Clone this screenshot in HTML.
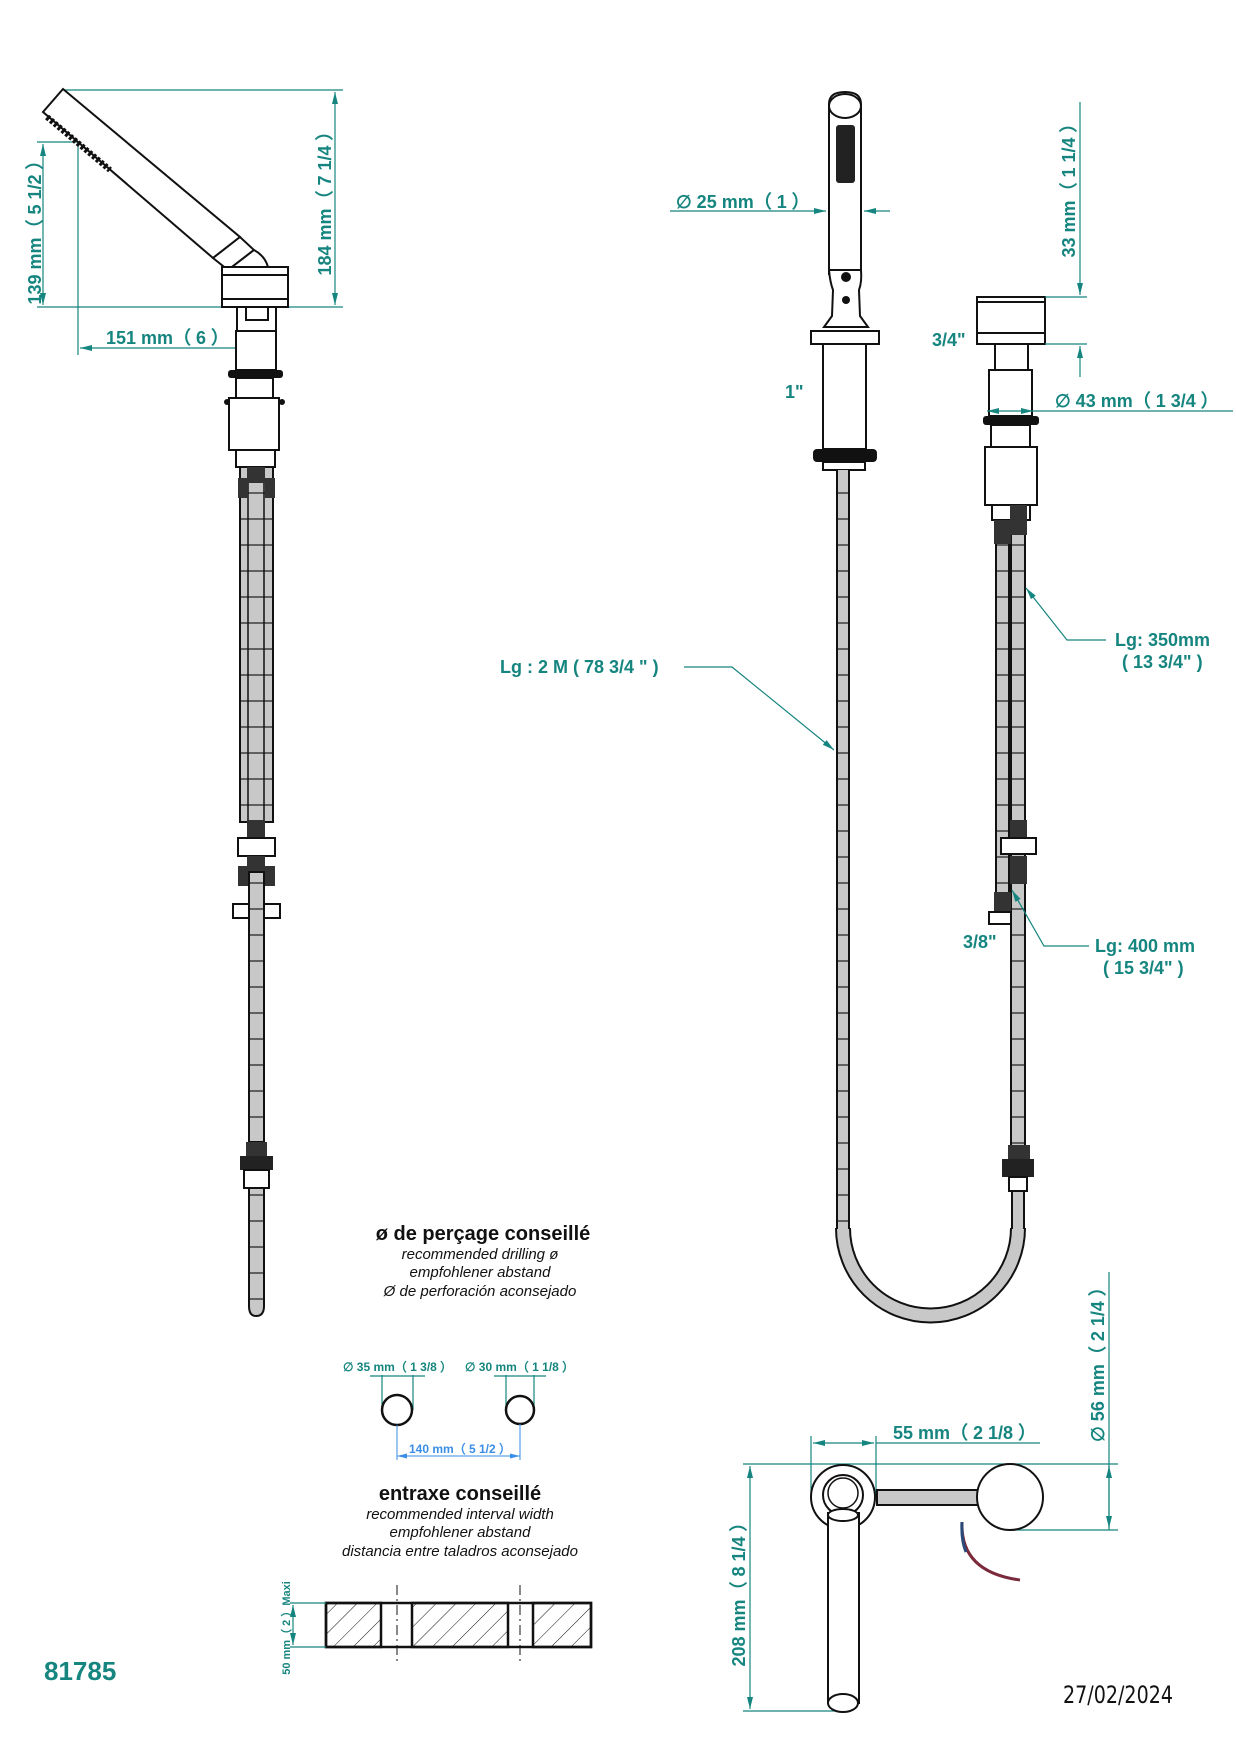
<!DOCTYPE html>
<html><head><meta charset="utf-8"><style>
html,body{margin:0;padding:0;background:#fff;}
svg{display:block;}
.d{fill:#16857f;font-family:"Liberation Sans",sans-serif;font-weight:bold;font-size:18px;}
.k{stroke:#111;stroke-width:2;fill:#fff;}
.g{stroke:#111;stroke-width:2;fill:#c8c8c8;}
.t{stroke:#16857f;stroke-width:1.2;fill:none;}
.it{font-family:"Liberation Sans",sans-serif;font-style:italic;font-size:15px;fill:#111;}
.bt{font-family:"Liberation Sans",sans-serif;font-weight:bold;font-size:20px;fill:#111;}
</style></head><body>
<svg width="1236" height="1752" viewBox="0 0 1236 1752" xmlns="http://www.w3.org/2000/svg">
<defs>
<pattern id="hs" width="20" height="26" patternUnits="userSpaceOnUse"><rect width="20" height="26" fill="#c8c8c8"/><line x1="0" y1="25" x2="20" y2="25" stroke="#222" stroke-width="1.2"/></pattern>
<pattern id="hatch" width="14" height="14" patternUnits="userSpaceOnUse" patternTransform="rotate(45)"><line x1="0" y1="0" x2="0" y2="14" stroke="#111" stroke-width="1"/></pattern>
<marker id="a" markerWidth="12" markerHeight="8" refX="12" refY="4" orient="auto-start-reverse" markerUnits="userSpaceOnUse"><path d="M0,1 L12,4 L0,7 z" fill="#16857f"/></marker>
<marker id="ab" markerWidth="10" markerHeight="6" refX="10" refY="3" orient="auto-start-reverse" markerUnits="userSpaceOnUse"><path d="M0,0.5 L10,3 L0,5.5 z" fill="#3a8ee6"/></marker>
</defs>

<!-- ===== LEFT VIEW ===== -->
<line class="t" x1="63" y1="90" x2="343" y2="90"/>
<line class="t" x1="37" y1="307" x2="343" y2="307"/>
<line class="t" x1="335" y1="92" x2="335" y2="305" marker-start="url(#a)" marker-end="url(#a)"/>
<line class="t" x1="37" y1="142" x2="80" y2="142"/>
<line class="t" x1="43" y1="144" x2="43" y2="305" marker-start="url(#a)" marker-end="url(#a)"/>
<line class="t" x1="78" y1="142" x2="78" y2="355"/>
<line class="t" x1="80" y1="348" x2="254" y2="348" marker-start="url(#a)" marker-end="url(#a)"/>
<line class="t" x1="256" y1="332" x2="256" y2="356"/>
<text class="d" transform="translate(41,228) rotate(-90)" text-anchor="middle">139 mm（ 5 1/2 ）</text>
<text class="d" transform="translate(331,199) rotate(-90)" text-anchor="middle">184 mm（ 7 1/4 ）</text>
<text class="d" x="106" y="344">151 mm（ 6 ）</text>
<polygon class="k" points="63,89 43,112 213,258 240,237"/>
<line x1="47" y1="117" x2="110" y2="170" stroke="#111" stroke-width="6" stroke-dasharray="3,2"/>
<polygon class="k" points="213,258 240,237 254,250 228,270"/>
<path class="k" d="M228,270 L254,250 Q265,256 268,267 L228,267 z"/>
<rect class="k" x="222" y="267" width="66" height="40"/>
<line x1="222" y1="275" x2="288" y2="275" stroke="#111" stroke-width="2"/>
<line x1="222" y1="299" x2="288" y2="299" stroke="#111" stroke-width="2"/>
<rect class="k" x="237" y="307" width="39" height="24"/>
<rect class="k" x="246" y="307" width="22" height="13"/>
<rect class="k" x="236" y="331" width="40" height="39"/>
<rect x="228" y="370" width="55" height="8" rx="3" fill="#111"/>
<rect class="k" x="236" y="378" width="37" height="20"/>
<rect class="k" x="229" y="398" width="50" height="52"/>
<circle cx="227" cy="402" r="3" fill="#111"/><circle cx="282" cy="402" r="3" fill="#111"/>
<rect class="k" x="236" y="450" width="39" height="17"/>
<rect x="240" y="467" width="33" height="355" fill="url(#hs)" stroke="#111" stroke-width="2"/>
<line x1="248" y1="467" x2="248" y2="822" stroke="#111" stroke-width="1.5"/>
<line x1="264" y1="467" x2="264" y2="822" stroke="#111" stroke-width="1.5"/>
<rect x="247" y="467" width="18" height="16" fill="#333"/>
<rect x="238" y="478" width="10" height="20" fill="#333"/><rect x="265" y="478" width="10" height="20" fill="#333"/>
<rect x="247" y="820" width="18" height="18" fill="#333"/>
<rect class="k" x="238" y="838" width="37" height="18"/>
<rect x="247" y="856" width="18" height="16" fill="#333"/>
<rect x="238" y="866" width="10" height="20" fill="#333"/><rect x="265" y="866" width="10" height="20" fill="#333"/>
<rect class="k" x="233" y="904" width="16" height="14"/><rect class="k" x="264" y="904" width="16" height="14"/>
<rect x="249" y="872" width="15" height="270" fill="url(#hs)" stroke="#111" stroke-width="2"/>
<rect x="246" y="1142" width="21" height="16" fill="#333"/>
<rect x="240" y="1156" width="33" height="14" fill="#222"/>
<rect class="k" x="244" y="1170" width="25" height="18"/>
<path d="M249,1188 L249,1306 Q249,1316 256,1316 Q264,1316 264,1306 L264,1188 z" fill="url(#hs)" stroke="#111" stroke-width="2"/>

<!-- ===== MIDDLE VIEW ===== -->
<line class="t" x1="670" y1="211" x2="826" y2="211" marker-end="url(#a)"/>
<line class="t" x1="864" y1="211" x2="890" y2="211" marker-start="url(#a)"/>
<text class="d" x="676" y="208">∅ 25 mm（ 1 ）</text>
<path class="k" d="M829,274 L829,104 Q829,92 845,92 Q861,92 861,104 L861,274 z"/>
<ellipse class="k" cx="845" cy="106" rx="16" ry="12"/>
<rect x="836" y="125" width="19" height="58" rx="3" fill="#222"/>
<path class="k" d="M829,270 Q830,282 833,290 L832,316 L824,327 L868,327 L860,316 L859,290 Q862,282 861,270 z"/>
<circle cx="846" cy="277" r="5" fill="#111"/><circle cx="846" cy="300" r="4" fill="#111"/>
<rect class="k" x="811" y="331" width="68" height="13"/>
<rect class="k" x="823" y="344" width="43" height="105"/>
<rect x="813" y="449" width="64" height="13" rx="4" fill="#111"/>
<rect class="k" x="823" y="462" width="42" height="8"/>
<text class="d" x="785" y="398">1"</text>
<!-- big U hose -->
<path d="M843,1228 A87.5,87.5 0 0 0 1018,1228" fill="none" stroke="#111" stroke-width="16"/>
<path d="M843,1228 A87.5,87.5 0 0 0 1018,1228" fill="none" stroke="#c8c8c8" stroke-width="12"/>
<rect x="837" y="470" width="12" height="760" fill="url(#hs)"/>
<line x1="837" y1="470" x2="837" y2="1229" stroke="#111" stroke-width="2"/>
<line x1="849" y1="470" x2="849" y2="1229" stroke="#111" stroke-width="2"/>
<rect x="1012" y="1190" width="12" height="40" fill="#c8c8c8"/>
<line x1="1012" y1="1190" x2="1012" y2="1229" stroke="#111" stroke-width="2"/>
<line x1="1024" y1="1190" x2="1024" y2="1229" stroke="#111" stroke-width="2"/>
<!-- right valve -->
<rect class="k" x="977" y="297" width="68" height="47"/>
<line x1="977" y1="302" x2="1045" y2="302" stroke="#111" stroke-width="2"/>
<line x1="977" y1="333" x2="1045" y2="333" stroke="#111" stroke-width="2"/>
<rect class="k" x="995" y="344" width="33" height="26"/>
<rect class="k" x="989" y="370" width="43" height="46"/>
<rect x="983" y="416" width="56" height="9" rx="3" fill="#111"/>
<rect class="k" x="991" y="425" width="39" height="22"/>
<rect class="k" x="985" y="447" width="52" height="58"/>
<rect class="k" x="992" y="505" width="38" height="15"/>
<text class="d" x="932" y="346">3/4"</text>
<line class="t" x1="1045" y1="297" x2="1087" y2="297"/>
<line class="t" x1="1045" y1="344" x2="1087" y2="344"/>
<line class="t" x1="1080" y1="102" x2="1080" y2="295" marker-end="url(#a)"/>
<line class="t" x1="1080" y1="346" x2="1080" y2="377" marker-start="url(#a)"/>
<text class="d" transform="translate(1075,186) rotate(-90)" text-anchor="middle">33 mm（ 1 1/4 ）</text>
<line class="t" x1="987" y1="411" x2="1033" y2="411" marker-start="url(#a)" marker-end="url(#a)"/>
<line class="t" x1="1033" y1="411" x2="1233" y2="411"/>
<text class="d" x="1055" y="407">∅ 43 mm（ 1 3/4 ）</text>
<rect x="996" y="520" width="13" height="400" fill="url(#hs)" stroke="#111" stroke-width="2"/>
<rect x="1011" y="520" width="14" height="650" fill="url(#hs)" stroke="#111" stroke-width="2"/>
<rect x="1010" y="505" width="17" height="30" fill="#333"/>
<rect x="994" y="520" width="17" height="24" fill="#333"/>
<rect x="1010" y="820" width="17" height="18" fill="#333"/>
<rect class="k" x="1001" y="838" width="35" height="16"/>
<rect x="1010" y="856" width="17" height="28" fill="#333"/>
<rect x="994" y="892" width="17" height="20" fill="#333"/>
<rect class="k" x="989" y="912" width="22" height="12"/>
<rect x="1008" y="1145" width="22" height="14" fill="#333"/>
<rect x="1002" y="1159" width="32" height="18" fill="#222"/>
<rect class="k" x="1009" y="1177" width="18" height="14"/>
<text class="d" x="500" y="673">Lg : 2 M ( 78 3/4 " )</text>
<polyline class="t" points="684,667 732,667 834,750" marker-end="url(#a)"/>
<text class="d" x="1115" y="646">Lg: 350mm</text>
<text class="d" x="1122" y="668">( 13 3/4" )</text>
<polyline class="t" points="1106,640 1067,640 1026,588" marker-end="url(#a)"/>
<text class="d" x="1095" y="952">Lg: 400 mm</text>
<text class="d" x="1103" y="974">( 15 3/4" )</text>
<polyline class="t" points="1089,946 1044,946 1012,890" marker-end="url(#a)"/>
<text class="d" x="963" y="948">3/8"</text>

<!-- ===== DRILLING INFO ===== -->
<text class="bt" x="483" y="1240" text-anchor="middle">ø de perçage conseillé</text>
<text class="it" x="480" y="1259" text-anchor="middle">recommended drilling ø</text>
<text class="it" x="480" y="1277" text-anchor="middle">empfohlener abstand</text>
<text class="it" x="480" y="1296" text-anchor="middle">Ø de perforación aconsejado</text>
<text x="343" y="1371" style="font-family:'Liberation Sans',sans-serif;font-size:12px;fill:#16857f;font-weight:bold">∅ 35 mm（ 1 3/8 ）</text>
<text x="465" y="1371" style="font-family:'Liberation Sans',sans-serif;font-size:12px;fill:#16857f;font-weight:bold">∅ 30 mm（ 1 1/8 ）</text>
<line class="t" x1="382" y1="1375" x2="382" y2="1410"/><line class="t" x1="413" y1="1375" x2="413" y2="1410"/>
<line class="t" x1="370" y1="1376" x2="425" y2="1376"/>
<line class="t" x1="506" y1="1375" x2="506" y2="1410"/><line class="t" x1="534" y1="1375" x2="534" y2="1410"/>
<line class="t" x1="494" y1="1376" x2="546" y2="1376"/>
<circle cx="397" cy="1410" r="15" fill="none" stroke="#111" stroke-width="2.5"/>
<circle cx="520" cy="1410" r="14" fill="none" stroke="#111" stroke-width="2.5"/>
<line x1="397" y1="1425" x2="397" y2="1460" stroke="#3a8ee6" stroke-width="1"/>
<line x1="520" y1="1424" x2="520" y2="1460" stroke="#3a8ee6" stroke-width="1"/>
<line x1="397" y1="1456" x2="520" y2="1456" stroke="#3a8ee6" stroke-width="1" marker-start="url(#ab)" marker-end="url(#ab)"/>
<text x="460" y="1453" text-anchor="middle" style="font-family:'Liberation Sans',sans-serif;font-size:12px;fill:#3a8ee6;font-weight:bold">140 mm（ 5 1/2 ）</text>
<text class="bt" x="460" y="1500" text-anchor="middle">entraxe conseillé</text>
<text class="it" x="460" y="1519" text-anchor="middle">recommended interval width</text>
<text class="it" x="460" y="1537" text-anchor="middle">empfohlener abstand</text>
<text class="it" x="460" y="1556" text-anchor="middle">distancia entre taladros aconsejado</text>
<rect x="326" y="1603" width="265" height="44" fill="#fff" stroke="#111" stroke-width="2.5"/>
<rect x="326" y="1603" width="55" height="44" fill="url(#hatch)" stroke="#111" stroke-width="2.5"/>
<rect x="412" y="1603" width="96" height="44" fill="url(#hatch)" stroke="#111" stroke-width="2.5"/>
<rect x="533" y="1603" width="58" height="44" fill="url(#hatch)" stroke="#111" stroke-width="2.5"/>
<line x1="397" y1="1585" x2="397" y2="1665" stroke="#111" stroke-width="1" stroke-dasharray="10,4,2,4"/>
<line x1="520" y1="1585" x2="520" y2="1665" stroke="#111" stroke-width="1" stroke-dasharray="10,4,2,4"/>
<line class="t" x1="290" y1="1603" x2="326" y2="1603"/><line class="t" x1="290" y1="1647" x2="326" y2="1647"/>
<line class="t" x1="293" y1="1605" x2="293" y2="1645" marker-start="url(#a)" marker-end="url(#a)"/>
<text transform="translate(290,1628) rotate(-90)" text-anchor="middle" style="font-family:'Liberation Sans',sans-serif;font-size:11px;fill:#16857f;font-weight:bold">50 mm（ 2 ）Maxi</text>
<text x="44" y="1680" style="font-family:'Liberation Sans',sans-serif;font-size:26px;fill:#16857f;font-weight:bold">81785</text>

<!-- ===== TOP VIEW BOTTOM RIGHT ===== -->
<line class="t" x1="811" y1="1436" x2="811" y2="1497"/>
<line class="t" x1="876" y1="1436" x2="876" y2="1497"/>
<line class="t" x1="813" y1="1443" x2="874" y2="1443" marker-start="url(#a)" marker-end="url(#a)"/>
<line class="t" x1="876" y1="1443" x2="1040" y2="1443"/>
<text class="d" x="893" y="1439">55 mm（ 2 1/8 ）</text>
<line class="t" x1="743" y1="1464" x2="1118" y2="1464"/>
<line class="t" x1="1010" y1="1530" x2="1118" y2="1530"/>
<line class="t" x1="1109" y1="1272" x2="1109" y2="1530"/>
<line class="t" x1="1109" y1="1466" x2="1109" y2="1528" marker-start="url(#a)" marker-end="url(#a)"/>
<text class="d" transform="translate(1104,1360) rotate(-90)" text-anchor="middle">∅ 56 mm（ 2 1/4 ）</text>
<line class="t" x1="743" y1="1711" x2="843" y2="1711"/>
<line class="t" x1="750" y1="1466" x2="750" y2="1709" marker-start="url(#a)" marker-end="url(#a)"/>
<text class="d" transform="translate(745,1590) rotate(-90)" text-anchor="middle">208 mm（ 8 1/4 ）</text>
<rect x="877" y="1490" width="101" height="15" fill="#c8c8c8" stroke="#111" stroke-width="2"/>
<circle cx="843" cy="1497" r="32" class="k"/>
<circle cx="843" cy="1495" r="20" fill="none" stroke="#111" stroke-width="2"/>
<circle cx="843" cy="1493" r="15" fill="none" stroke="#111" stroke-width="1.5"/>
<path class="k" d="M828,1513 L828,1703 L859,1703 L859,1513 z"/>
<ellipse class="k" cx="843" cy="1515" rx="15" ry="6"/>
<ellipse class="k" cx="843" cy="1703" rx="15" ry="9"/>
<circle cx="1010" cy="1497" r="33" class="k"/>
<path d="M962,1522 Q960,1572 1020,1580" fill="none" stroke="#7a2a3a" stroke-width="3"/>
<path d="M962,1522 Q961,1540 966,1552" fill="none" stroke="#2a4a7a" stroke-width="3"/>
<text x="1063" y="1703" style="font-family:'DejaVu Sans',sans-serif;font-size:24px;fill:#111;font-stretch:condensed" textLength="110" lengthAdjust="spacingAndGlyphs">27/02/2024</text>
</svg>
</body></html>
